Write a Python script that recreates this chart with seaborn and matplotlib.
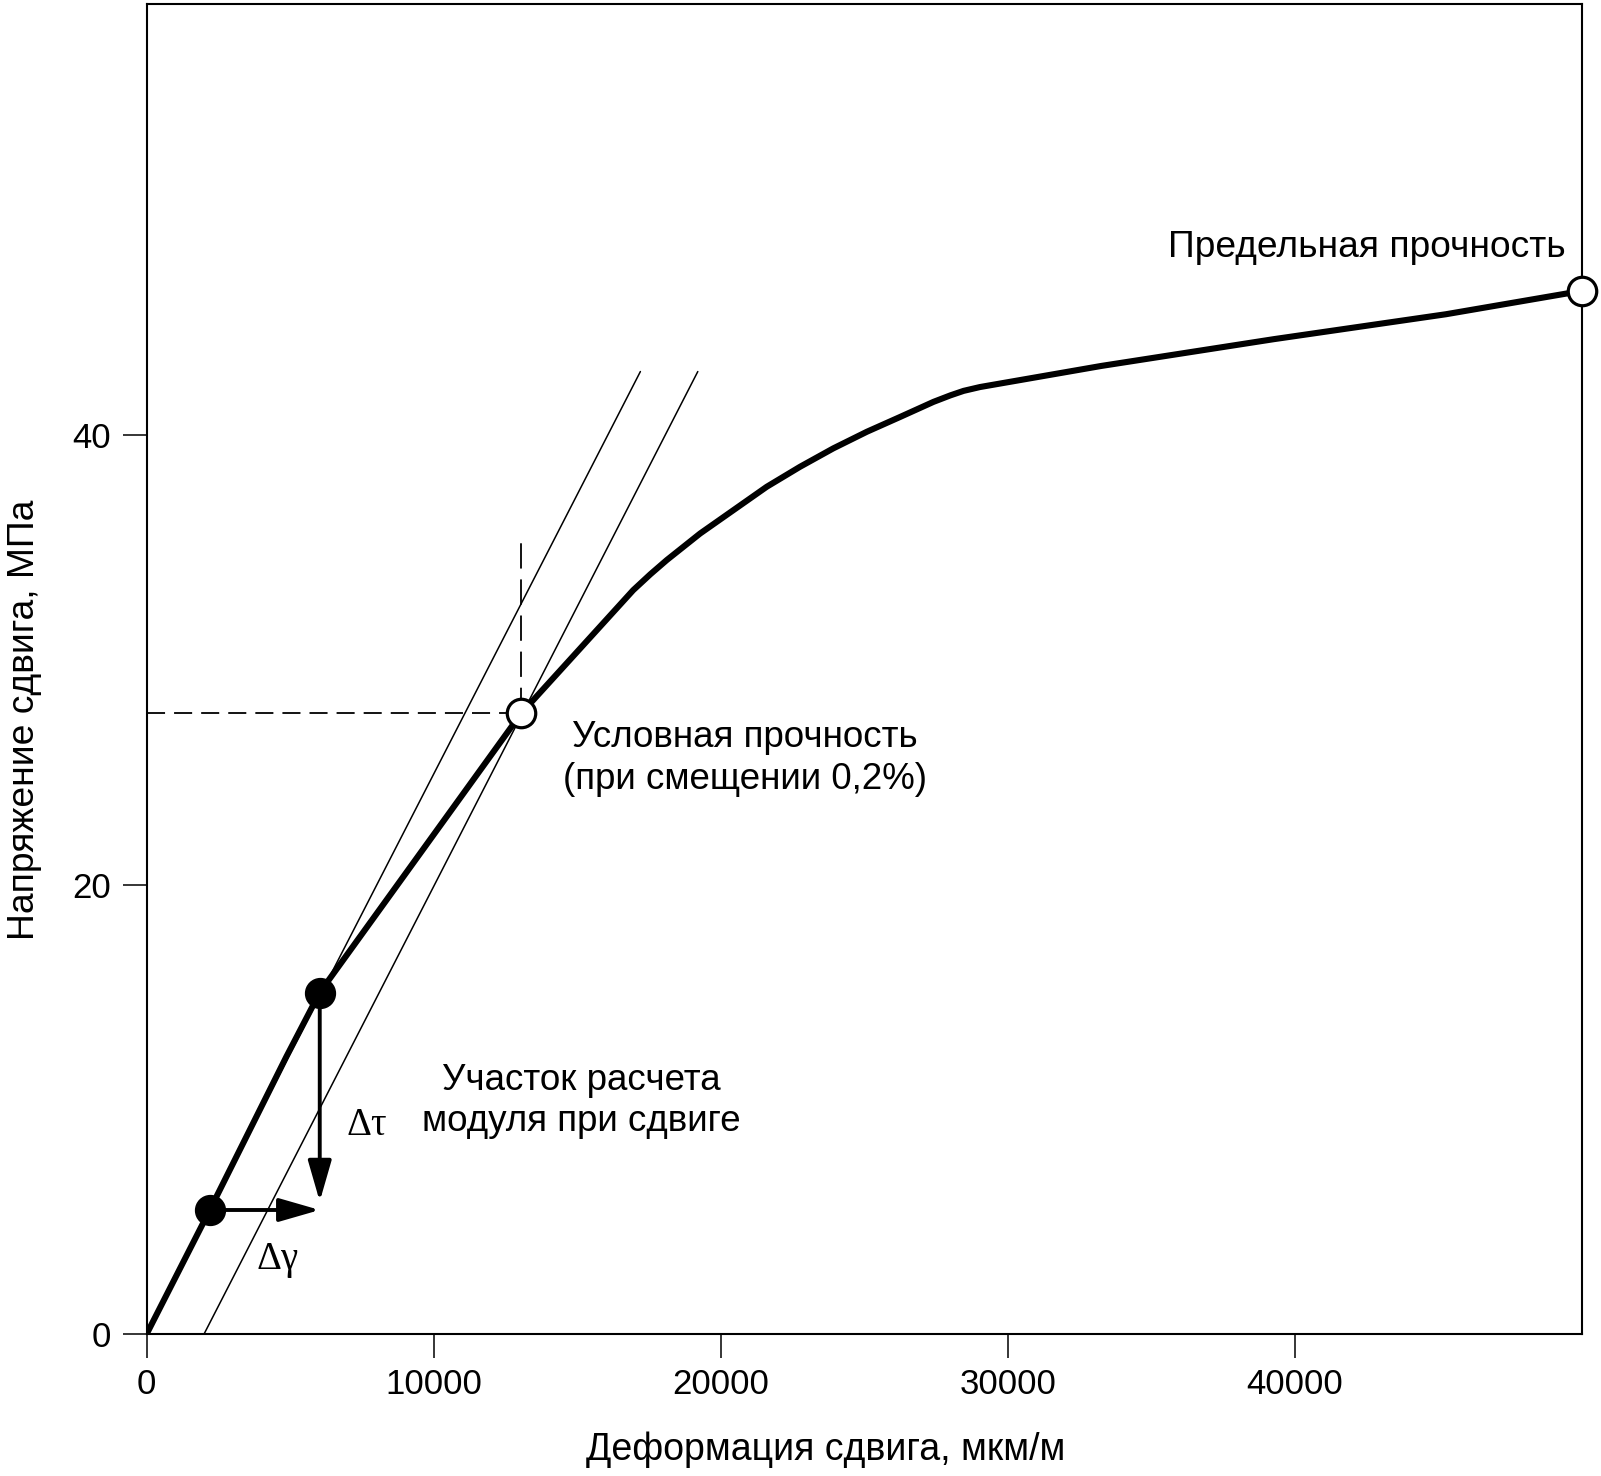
import matplotlib
matplotlib.use('Agg')
import matplotlib.pyplot as plt
import seaborn as sns
import pandas as pd

# ---- data ----
strain = [0, 2200, 4870, 6030, 13050, 14630, 15790, 16950, 17550, 18120, 19280,
          20440, 21600, 22760, 23920, 25090, 26250, 27410, 28000, 28460, 29030,
          33260, 39260, 45260, 50000]
stress = [0, 5.52, 12.35, 15.2, 27.63, 29.85, 31.48, 33.11, 33.82, 34.45, 35.63,
          36.67, 37.71, 38.60, 39.42, 40.16, 40.82, 41.49, 41.78, 41.98, 42.15,
          43.09, 44.28, 45.39, 46.43]

modulus_x = [2200, 6030]          # black points of the modulus range
modulus_y = [5.52, 15.2]
yield_x = [13050]                 # offset yield point
yield_y = [27.63]
ultimate_x = [50000]              # ultimate strength point
ultimate_y = [46.43]

tangent_x = [2200, 17200]         # elastic line
tangent_y = [5.52, 42.84]
offset_x = [2000, 19200]          # 0.2 % offset line
offset_y = [0, 42.84]

yield_guide_top = 35.6
dtau_tip = 5.9

x_ticks = [0, 10000, 20000, 30000, 40000]
y_ticks = [0, 20, 40]
x_label = 'Деформация сдвига, мкм/м'
y_label = 'Напряжение сдвига, МПа'
txt_yield = 'Условная прочность\n(при смещении 0,2%)'
txt_mod = 'Участок расчета\nмодуля при сдвиге'
txt_ult = 'Предельная прочность'

# ---- style ----
sns.set_theme(style='ticks')
plt.rcParams['font.family'] = ['Liberation Sans', 'DejaVu Sans']
plt.rcParams['axes.linewidth'] = 1.5
plt.rcParams['axes.edgecolor'] = 'black'
plt.rcParams['text.color'] = 'black'
plt.rcParams['axes.labelcolor'] = 'black'

fig = plt.figure(figsize=(16.01, 14.76), dpi=100)
ax = fig.add_axes([0.0916, 0.0962, 0.8965, 0.9011])

df = pd.DataFrame({'strain': strain, 'stress': stress})

# thin construction lines
ax.plot(tangent_x, tangent_y, color='black', lw=1.1, zorder=2)
ax.plot(offset_x, offset_y, color='black', lw=1.1, zorder=2)
ax.plot([0, yield_x[0]], [yield_y[0], yield_y[0]], color='black', lw=1.3,
        ls=(0, (10, 5)), zorder=2)
ax.plot([yield_x[0], yield_x[0]], [yield_y[0], yield_guide_top], color='black',
        lw=1.3, ls=(0, (14, 6)), zorder=2)

# main curve
sns.lineplot(data=df, x='strain', y='stress', color='black', lw=4.4, ax=ax,
             zorder=3, solid_joinstyle='round', solid_capstyle='round')

# arrows
arrow_style = dict(arrowstyle='-|>,head_length=1.25,head_width=0.36',
                   mutation_scale=20, lw=2.8, color='black', shrinkA=0, shrinkB=0)
ax.annotate('', xy=(modulus_x[1], modulus_y[0]), xytext=(modulus_x[0], modulus_y[0]),
            arrowprops=arrow_style, zorder=4)
ax.annotate('', xy=(modulus_x[1], dtau_tip), xytext=(modulus_x[1], modulus_y[1]),
            arrowprops=arrow_style, zorder=4)

# markers
ax.plot(modulus_x, modulus_y, 'o', ms=21.5, color='black', zorder=5)
ax.plot(yield_x, yield_y, 'o', ms=20.5, mfc='white', mec='black', mew=2.3, zorder=5)
ax.plot(ultimate_x, ultimate_y, 'o', ms=20.5, mfc='white', mec='black', mew=2.3,
        zorder=6, clip_on=False)

# text
ax.text(20845, 25.63, txt_yield, ha='center', va='center', fontsize=26.5,
        linespacing=1.25, color='black')
ax.text(15130, 10.37, txt_mod, ha='center', va='center', fontsize=26.5,
        linespacing=1.25, color='black')
ax.text(49414, 48.35, txt_ult, ha='right', va='center', fontsize=26.7,
        color='black')
ax.text(4577, 3.3, 'Δγ', ha='center', va='center', fontsize=28, color='black',
        family=['Liberation Serif', 'DejaVu Serif'])
ax.text(7665, 9.26, 'Δτ', ha='center', va='center', fontsize=28, color='black',
        family=['Liberation Serif', 'DejaVu Serif'])

ax.set_xlim(0, 50000)
ax.set_ylim(0, 59.2)
ax.set_xticks(x_ticks)
ax.set_yticks(y_ticks)
ax.set_xticklabels([str(v) for v in x_ticks])
ax.set_yticklabels([str(v) for v in y_ticks])
ax.tick_params(direction='out', length=17.3, width=1.1, labelsize=25,
               colors='black', top=False, right=False)
ax.tick_params(axis='x', pad=7)
ax.tick_params(axis='y', pad=8.5)

ax.set_xlabel(x_label, fontsize=27, color='black')
ax.set_ylabel(y_label, fontsize=26.8, color='black')
ax.xaxis.set_label_coords(0.473, -0.0872)
ax.xaxis.label.set_va('center')
ax.yaxis.set_label_coords(-0.0848, 0.4617)
ax.yaxis.label.set_va('center')

for s in ax.spines.values():
    s.set_visible(True)
    s.set_linewidth(1.5)
    s.set_color('black')

fig.savefig('out.png', dpi=100, facecolor='white')
